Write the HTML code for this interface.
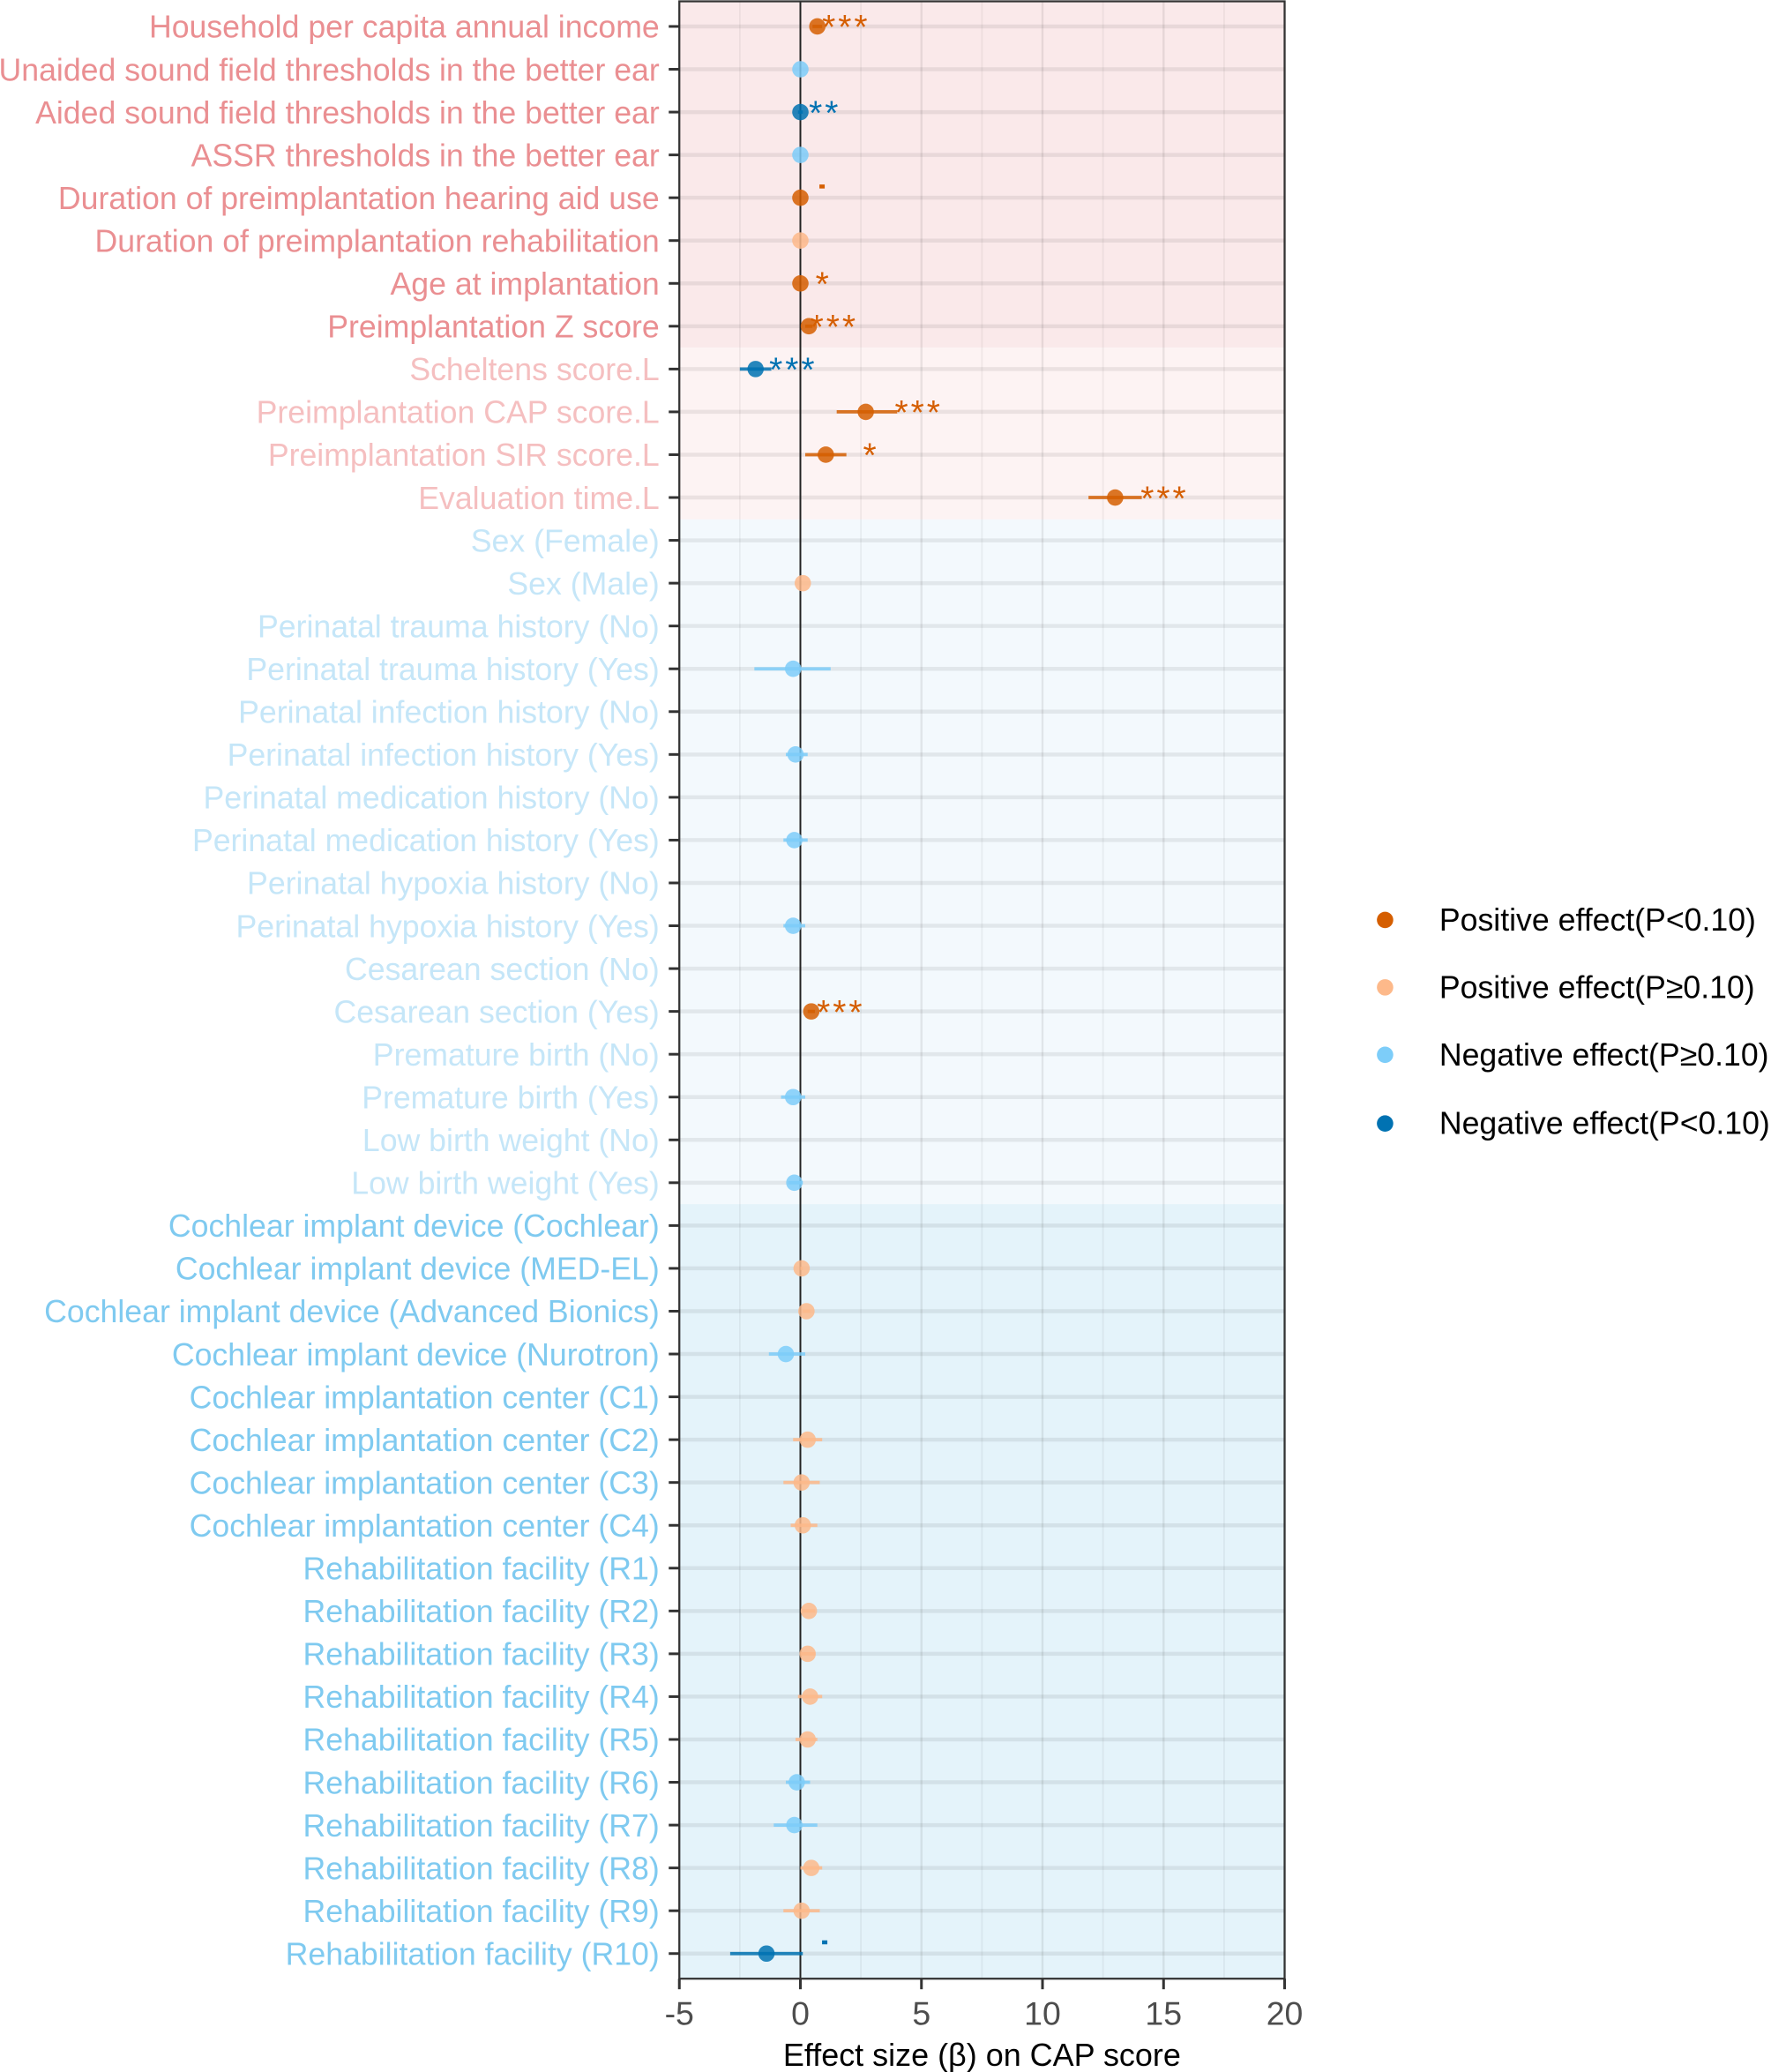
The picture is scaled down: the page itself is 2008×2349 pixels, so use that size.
<!DOCTYPE html>
<html><head><meta charset="utf-8"><style>
html,body{margin:0;padding:0;background:#fff;}
svg{display:block;font-family:"Liberation Sans",Arial,sans-serif;}
</style></head><body>
<svg id="s" width="2008" height="2349" viewBox="0 0 1340 1567.6" xmlns="http://www.w3.org/2000/svg">
<rect x="0" y="0" width="1340" height="1567.6" fill="#fff"/>
<g id="g"></g>
<g font-size="25" fill="#4d4d4d" text-anchor="middle">
<text x="514" y="1532">-5</text><text x="605.6" y="1532">0</text><text x="697.2" y="1532">5</text>
<text x="788.8" y="1532">10</text><text x="880.4" y="1532">15</text><text x="972" y="1532">20</text>
</g>
<text x="743" y="1563" font-size="24" text-anchor="middle" fill="#000">Effect size (β) on CAP score</text>
<g font-size="23.8" fill="#000">
<circle cx="1048" cy="696" r="6.2" fill="#d55e00"/><text x="1089" y="704">Positive effect(P&lt;0.10)</text>
<circle cx="1048" cy="747" r="6.2" fill="#fdb98a"/><text x="1089" y="755">Positive effect(P≥0.10)</text>
<circle cx="1048" cy="798" r="6.2" fill="#7dcdf9"/><text x="1089" y="806">Negative effect(P≥0.10)</text>
<circle cx="1048" cy="850" r="6.2" fill="#0072b2"/><text x="1089" y="858">Negative effect(P&lt;0.10)</text>
</g>
</svg>
<script>
var rows=[
["Household per capita annual income",0.7,0.5,0.9,"do","***",622],
["Unaided sound field thresholds in the better ear",0,0,0,"lb",""],
["Aided sound field thresholds in the better ear",0,-0.1,0.1,"db","**",612],
["ASSR thresholds in the better ear",0,0,0,"lb",""],
["Duration of preimplantation hearing aid use",0,0,0,"do",".",620],
["Duration of preimplantation rehabilitation",0,0,0,"lo",""],
["Age at implantation",0,0,0,"do","*",617],
["Preimplantation Z score",0.35,0.2,0.5,"do","***",613],
["Scheltens score.L",-1.85,-2.5,-1.2,"db","***",582],
["Preimplantation CAP score.L",2.7,1.5,4,"do","***",677],
["Preimplantation SIR score.L",1.05,0.2,1.9,"do","*",653],
["Evaluation time.L",13,11.9,14.1,"do","***",863],
["Sex (Female)"],["Sex (Male)",0.1,0.1,0.1,"lo",""],
["Perinatal trauma history (No)"],["Perinatal trauma history (Yes)",-0.3,-1.9,1.25,"lb",""],
["Perinatal infection history (No)"],["Perinatal infection history (Yes)",-0.2,-0.6,0.3,"lb",""],
["Perinatal medication history (No)"],["Perinatal medication history (Yes)",-0.25,-0.7,0.3,"lb",""],
["Perinatal hypoxia history (No)"],["Perinatal hypoxia history (Yes)",-0.3,-0.7,0.2,"lb",""],
["Cesarean section (No)"],["Cesarean section (Yes)",0.45,0.3,0.6,"do","***",618],
["Premature birth (No)"],["Premature birth (Yes)",-0.3,-0.8,0.2,"lb",""],
["Low birth weight (No)"],["Low birth weight (Yes)",-0.25,-0.5,0.1,"lb",""],
["Cochlear implant device (Cochlear)"],["Cochlear implant device (MED-EL)",0.05,0,0.1,"lo",""],
["Cochlear implant device (Advanced Bionics)",0.25,0.1,0.4,"lo",""],
["Cochlear implant device (Nurotron)",-0.6,-1.3,0.2,"lb",""],
["Cochlear implantation center (C1)"],["Cochlear implantation center (C2)",0.3,-0.3,0.9,"lo",""],
["Cochlear implantation center (C3)",0.05,-0.7,0.8,"lo",""],["Cochlear implantation center (C4)",0.1,-0.4,0.7,"lo",""],
["Rehabilitation facility (R1)"],["Rehabilitation facility (R2)",0.35,0.1,0.6,"lo",""],
["Rehabilitation facility (R3)",0.3,0,0.6,"lo",""],["Rehabilitation facility (R4)",0.4,-0.1,0.9,"lo",""],
["Rehabilitation facility (R5)",0.3,-0.2,0.7,"lo",""],["Rehabilitation facility (R6)",-0.15,-0.6,0.4,"lb",""],
["Rehabilitation facility (R7)",-0.25,-1.1,0.7,"lb",""],["Rehabilitation facility (R8)",0.45,0,0.9,"lo",""],
["Rehabilitation facility (R9)",0.05,-0.7,0.8,"lo",""],["Rehabilitation facility (R10)",-1.4,-2.9,0.1,"db",".",622]
];
var col={do:"#d55e00",lo:"#fdb98a",lb:"#7dcdf9",db:"#0072b2"};
function X(b){return 605.6+18.32*b;}
function Y(i){return 20+32.4*i;}
var h="";
h+='<rect x="514" y="1" width="458" height="262" fill="#fae9ea"/>';
h+='<rect x="514" y="263" width="458" height="130" fill="#fdf3f3"/>';
h+='<rect x="514" y="393" width="458" height="518" fill="#f3f9fd"/>';
h+='<rect x="514" y="911" width="458" height="586" fill="#e4f3fa"/>';
for(var k=0;k<=10;k++){var x=514+45.8*k;h+='<line x1="'+x+'" y1="1" x2="'+x+'" y2="1497" stroke="#000" stroke-opacity="'+(k%2?0.05:0.08)+'" stroke-width="'+(k%2?1.2:1.6)+'"/>';}
for(var i=0;i<rows.length;i++){var y=Y(i);h+='<line x1="514" y1="'+y+'" x2="972" y2="'+y+'" stroke="#000" stroke-opacity="0.07" stroke-width="3"/>';}
h+='<line x1="605.6" y1="1" x2="605.6" y2="1497" stroke="#222" stroke-width="1.3"/>';
for(var i=0;i<rows.length;i++){var r=rows[i],y=Y(i);
 var lc=i<8?"#ea8f92":i<12?"#f5bfc0":i<28?"#c5e6f8":"#7fcaf0";
 h+='<text x="499" y="'+(y+8.5)+'" font-size="23.8" text-anchor="end" fill="'+lc+'">'+r[0]+'</text>';
 h+='<line x1="506" y1="'+y+'" x2="514" y2="'+y+'" stroke="#333" stroke-width="2"/>';
 if(r.length>1){var c=col[r[4]];
  if(r[3]>r[2])h+='<line x1="'+X(r[2])+'" y1="'+y+'" x2="'+X(r[3])+'" y2="'+y+'" stroke="'+c+'" stroke-width="2.5" stroke-opacity="0.85"/>';
  h+='<circle cx="'+X(r[1])+'" cy="'+y+'" r="6.2" fill="'+c+'" fill-opacity="0.85"/>';
  if(r[5]==".")h+='<rect x="'+r[6]+'" y="'+(y-10)+'" width="4" height="3" fill="'+c+'"/>';
  else if(r[5])h+='<text x="'+r[6]+'" y="'+(y+9.5)+'" font-size="26" fill="'+c+'" letter-spacing="2">'+r[5]+'</text>';
 }}
h+='<rect x="514" y="1" width="458" height="1496" fill="none" stroke="#333" stroke-width="1.5"/>';
[514,605.6,697.2,788.8,880.4,972].forEach(function(x){h+='<line x1="'+x+'" y1="1497" x2="'+x+'" y2="1505" stroke="#333" stroke-width="2"/>';});
document.getElementById("g").innerHTML=h;
</script>
</body></html>
